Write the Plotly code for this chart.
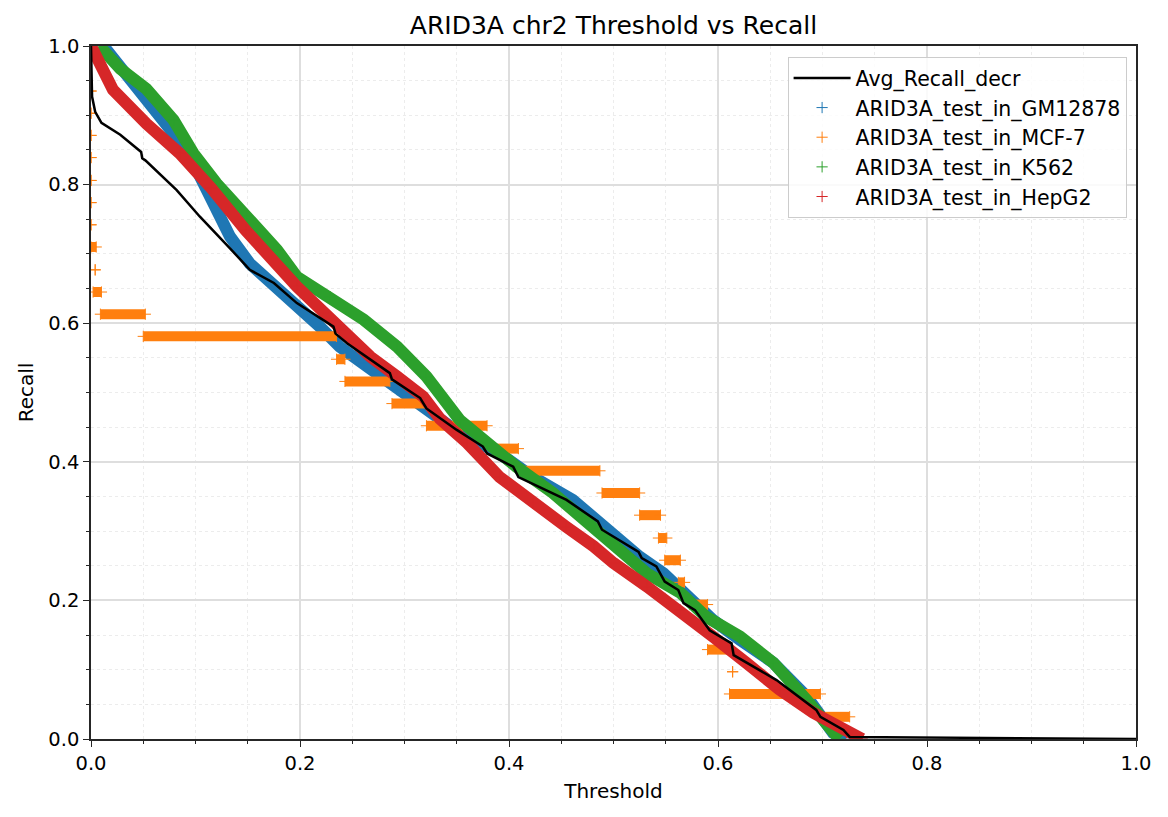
"""ARID3A chr2: threshold vs recall"""
import plotly.graph_objects as go

# Средняя кривая (Avg_Recall_decr)
avg_thr = [0.0, 0.001, 0.004, 0.009, 0.010, 0.028, 0.048, 0.049, 0.052, 0.082, 0.104,
           0.133, 0.152, 0.175, 0.197, 0.232, 0.234, 0.245, 0.286, 0.288, 0.315, 0.321,
           0.350, 0.375, 0.379, 0.404, 0.409, 0.455, 0.485, 0.489, 0.524, 0.527, 0.541,
           0.549, 0.562, 0.567, 0.578, 0.592, 0.613, 0.615, 0.656, 0.694, 0.698, 0.720,
           0.726, 1.0]
avg_rec = [1.0, 0.927, 0.905, 0.893, 0.889, 0.872, 0.847, 0.838, 0.835, 0.792, 0.754,
           0.708, 0.677, 0.658, 0.629, 0.595, 0.585, 0.571, 0.528, 0.519, 0.492, 0.477,
           0.446, 0.422, 0.412, 0.393, 0.378, 0.345, 0.314, 0.302, 0.270, 0.261, 0.249,
           0.227, 0.215, 0.196, 0.186, 0.157, 0.138, 0.121, 0.085, 0.042, 0.032, 0.013,
           0.003, 0.0]

# GM12878
gm_thr = [0.012, 0.030, 0.050, 0.085, 0.100, 0.114, 0.133, 0.152, 0.175, 0.200, 0.219,
          0.238, 0.261, 0.293, 0.320, 0.353, 0.391, 0.423, 0.461, 0.493, 0.525, 0.548,
          0.570, 0.595, 0.621, 0.653, 0.685, 0.710, 0.722]
gm_rec = [1.0, 0.965, 0.932, 0.862, 0.825, 0.782, 0.725, 0.686, 0.655, 0.624, 0.595,
          0.566, 0.542, 0.504, 0.480, 0.441, 0.412, 0.378, 0.345, 0.302, 0.263, 0.239,
          0.205, 0.172, 0.143, 0.110, 0.061, 0.009, 0.0]

# K562
k_thr = [0.008, 0.028, 0.053, 0.079, 0.098, 0.120, 0.149, 0.178, 0.197, 0.229, 0.261,
         0.293, 0.321, 0.353, 0.379, 0.407, 0.442, 0.470, 0.500, 0.532, 0.564, 0.589,
         0.621, 0.653, 0.685, 0.707, 0.716]
k_rec = [1.0, 0.967, 0.938, 0.893, 0.845, 0.802, 0.754, 0.706, 0.667, 0.638, 0.605,
         0.566, 0.523, 0.460, 0.427, 0.393, 0.355, 0.320, 0.280, 0.239, 0.211, 0.176,
         0.148, 0.110, 0.056, 0.013, 0.0]

# HepG2
hep_thr = [0.0, 0.021, 0.053, 0.085, 0.115, 0.148, 0.197, 0.222, 0.238, 0.267, 0.293,
           0.318, 0.334, 0.360, 0.391, 0.423, 0.455, 0.481, 0.500, 0.532, 0.564, 0.595,
           0.627, 0.659, 0.691, 0.723, 0.738]
hep_rec = [1.0, 0.937, 0.888, 0.845, 0.795, 0.734, 0.653, 0.615, 0.590, 0.552, 0.523,
           0.494, 0.462, 0.427, 0.378, 0.340, 0.306, 0.278, 0.254, 0.220, 0.186, 0.148,
           0.110, 0.071, 0.038, 0.009, 0.0]

# MCF-7: ступени recall и диапазоны порогов на каждой ступени
mcf_rec = [0.935, 0.903, 0.871, 0.839, 0.806, 0.774, 0.742, 0.710, 0.677, 0.645, 0.613,
           0.581, 0.548, 0.516, 0.484, 0.452, 0.419, 0.387, 0.355, 0.323, 0.290, 0.258,
           0.226, 0.194, 0.129, 0.097, 0.065, 0.032]
mcf_thr_start = [0.0, 0.0, 0.0, 0.0, 0.0, 0.0, 0.0, 0.0, 0.004, 0.002, 0.009,
                 0.050, 0.235, 0.243, 0.288, 0.321, 0.385, 0.409, 0.489, 0.525, 0.543, 0.549,
                 0.562, 0.573, 0.590, 0.614, 0.611, 0.698]
mcf_thr_end = [0.0, 0.0, 0.0, 0.0, 0.0, 0.0, 0.0, 0.005, 0.004, 0.010, 0.052,
               0.235, 0.243, 0.286, 0.321, 0.379, 0.409, 0.487, 0.525, 0.545, 0.551, 0.564,
               0.568, 0.590, 0.611, 0.614, 0.698, 0.726]

BLUE, ORANGE, GREEN, RED = '#1f77b4', '#ff7f0e', '#2ca02c', '#d62728'
FONT = 'DejaVu Sans'

# страница добавляет отступ 8px у body -> фигура чуть меньше окна
W, H = 1160, 809


def cross(color):
    return dict(symbol='cross-thin-open', size=8, color=color,
                line=dict(width=1, color=color))


fig = go.Figure()


def add_band(thr, rec, name, color, rank):
    # плотная полоса из маркеров "+" -> толстая линия + сами маркеры
    fig.add_trace(go.Scatter(x=thr, y=rec, mode='lines', showlegend=False,
                             legendgroup=name, line=dict(color=color, width=12),
                             hoverinfo='skip'))
    fig.add_trace(go.Scatter(x=thr, y=rec, mode='markers', name=name, legendgroup=name,
                             marker=cross(color), legendrank=rank))


add_band(gm_thr, gm_rec, 'ARID3A_test_in_GM12878', BLUE, 2)

# ступени MCF-7
seg_x, seg_y, pt_x, pt_y = [], [], [], []
for r, t0, t1 in zip(mcf_rec, mcf_thr_start, mcf_thr_end):
    seg_x += [t0, t1, None]
    seg_y += [r, r, None]
    pt_x += [t0, t1]
    pt_y += [r, r]
fig.add_trace(go.Scatter(x=seg_x, y=seg_y, mode='lines', showlegend=False,
                         legendgroup='mcf', line=dict(color=ORANGE, width=10),
                         hoverinfo='skip'))
fig.add_trace(go.Scatter(x=pt_x, y=pt_y, mode='markers', name='ARID3A_test_in_MCF-7',
                         legendgroup='mcf', marker=cross(ORANGE), legendrank=3))

add_band(k_thr, k_rec, 'ARID3A_test_in_K562', GREEN, 4)
add_band(hep_thr, hep_rec, 'ARID3A_test_in_HepG2', RED, 5)

fig.add_trace(go.Scatter(x=avg_thr, y=avg_rec, mode='lines', name='Avg_Recall_decr',
                         legendgroup='avg', line=dict(color='black', width=2.5),
                         legendrank=1))

axis_style = dict(
    range=[0, 1], dtick=0.2, tickformat='.1f', showline=True, linecolor='#262626',
    linewidth=1.5, mirror=True, ticks='outside', ticklen=6, tickwidth=1.3,
    tickcolor='#262626', showgrid=True, gridcolor='#dedede', gridwidth=1.5,
    zeroline=False, automargin=False,
    tickfont=dict(size=19.5, color='black', family=FONT),
    minor=dict(dtick=0.05, ticks='outside', ticklen=3.5, tickwidth=1,
               tickcolor='#262626', showgrid=True, gridcolor='#ececec',
               griddash='dot', gridwidth=1),
)

fig.update_layout(
    width=W, height=H,
    template='plotly_white',
    paper_bgcolor='white', plot_bgcolor='white',
    font=dict(family=FONT, color='black', size=20),
    title=dict(text='ARID3A chr2 Threshold vs Recall', x=0.5, xref='paper',
               y=1 - 17 / H, yref='container', yanchor='middle',
               font=dict(size=25, family=FONT, color='black')),
    margin=dict(l=83, r=32, t=38, b=78),
    xaxis=dict(title=dict(text='Threshold', standoff=10, font=dict(size=20)), **axis_style),
    yaxis=dict(title=dict(text='Recall', standoff=9, font=dict(size=20)), **axis_style),
    legend=dict(x=0.991, y=0.984, xanchor='right', yanchor='top',
                bgcolor='rgba(255,255,255,0.85)', bordercolor='#cccccc',
                borderwidth=1, font=dict(size=20.5, family=FONT), itemwidth=57,
                traceorder='grouped', tracegroupgap=0),
    showlegend=True,
)

fig.write_html("out.html")
